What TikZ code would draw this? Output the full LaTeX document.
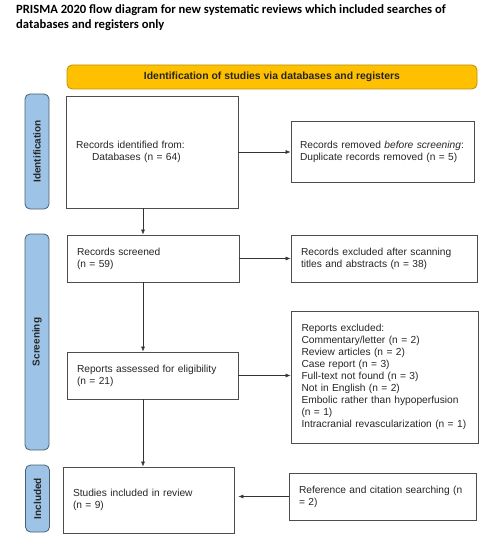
\documentclass[tikz,border=0pt]{standalone}
\usepackage{fontspec}
\setmainfont{Liberation Sans}
\newfontfamily\titlefont{Carlito}
\usetikzlibrary{arrows.meta}
\definecolor{sidefill}{HTML}{9DC3E6}
\definecolor{sidedraw}{HTML}{4A5F73}
\definecolor{bannerfill}{HTML}{FFC000}
\definecolor{bannerdraw}{HTML}{B8900A}
\definecolor{boxdraw}{HTML}{4D4D4D}
\definecolor{txt}{HTML}{262626}
\newcommand\nb[1]{\mbox{#1}}
\tikzset{
  flowbox/.style={draw=boxdraw, line width=0.8pt, fill=white, rectangle, inner xsep=10pt, inner ysep=0pt,
    align=left, text=txt, font=\fontsize{10.2}{12}\selectfont, anchor=center},
  sidebar/.style={draw=sidedraw, line width=0.8pt, fill=sidefill, rounded corners=5pt, minimum width=24pt, inner sep=0pt},
  sidelabel/.style={rotate=90, font=\bfseries\fontsize{10}{12}\selectfont, text=black!85},
  arr/.style={draw=black!80, line width=0.6pt, -{Latex[length=5pt,width=4pt]}}
}
\begin{document}
\begin{tikzpicture}[x=1pt,y=-1pt]
\useasboundingbox (0,0) rectangle (492,540);
% title
\node[anchor=north west, inner sep=0pt, align=left, font=\titlefont\bfseries\fontsize{12.6}{15.5}\selectfont] (title) at (16,4)
  {PRISMA 2020 flow diagram for new systematic reviews which included searches of\\databases and registers only};
% banner
\node[draw=bannerdraw, line width=0.8pt, fill=bannerfill, rounded corners=5pt, minimum width=410pt, minimum height=24pt, inner sep=0pt,
  font=\bfseries\fontsize{10.4}{12}\selectfont, text=black!85] (banner) at (272,77) {Identification of studies via databases and registers};
% side bars
\node[sidebar, minimum height=115pt] (sid) at (37,151.5) {};
\node[sidelabel] (sidl) at (sid.center) {Identification};
\node[sidebar, minimum height=216pt] (sscr) at (37,342) {};
\node[sidelabel] (sscrl) at (sscr.center) {Screening};
\node[sidebar, minimum height=67pt] (sinc) at (37.5,498.5) {};
\node[sidelabel] (sincl) at (sinc.center) {Included};
% boxes
\node[flowbox, text width=152pt, minimum height=112pt] (ident) at (152,152)
  {\nb{Records identified from:}\\\hspace*{16pt}\nb{Databases (n = 64)}\\[6pt]};
\node[flowbox, text width=165pt, minimum height=61pt, inner xsep=9pt] (removed) at (382.5,151.5)
  {\nb{Records removed \textit{before screening}:}\\\nb{Duplicate records removed (n = 5)}};
\node[flowbox, text width=152pt, minimum height=47pt] (screened) at (153,258.5)
  {\nb{Records screened}\\(n = 59)};
\node[flowbox, text width=166pt, minimum height=47pt] (exscr) at (384,258.5)
  {\nb{Records excluded after scanning}\\\nb{titles and abstracts (n = 38)}};
\node[flowbox, text width=151pt, minimum height=47pt] (assessed) at (152.5,375.5)
  {\nb{Reports assessed for eligibility}\\(n = 21)};
\node[flowbox, text width=166pt, minimum height=132pt, inner xsep=10.5pt] (exrep) at (384.5,377)
  {\nb{Reports excluded:}\\\nb{Commentary/letter (n = 2)}\\\nb{Review articles (n = 2)}\\\nb{Case report (n = 3)}\\\nb{Full-text not found (n = 3)}\\\nb{Not in English (n = 2)}\\\nb{Embolic rather than hypoperfusion}\\\nb{(n = 1)}\\\nb{Intracranial revascularization (n = 1)}};
\node[flowbox, text width=151pt, minimum height=66pt] (included) at (148.5,500)
  {\nb{Studies included in review}\\(n = 9)};
\node[flowbox, text width=167pt, minimum height=47pt] (reference) at (382.5,496.5)
  {\nb{Reference and citation searching (n}\\= 2)};
% connectors
\coordinate (col) at (143,0);
\draw[arr] (ident.east) -- (ident.east -| removed.west);
\draw[arr] (ident.south -| col) -- (screened.north -| col);
\draw[arr] (screened.east) -- (screened.east -| exscr.west);
\draw[arr] (screened.south -| col) -- (assessed.north -| col);
\draw[arr] (assessed.east) -- (assessed.east -| exrep.west);
\draw[arr] (assessed.south -| col) -- (included.north -| col);
\draw[arr, shorten >=4pt] (reference.west) -- (reference.west -| included.east);
\end{tikzpicture}
\end{document}
